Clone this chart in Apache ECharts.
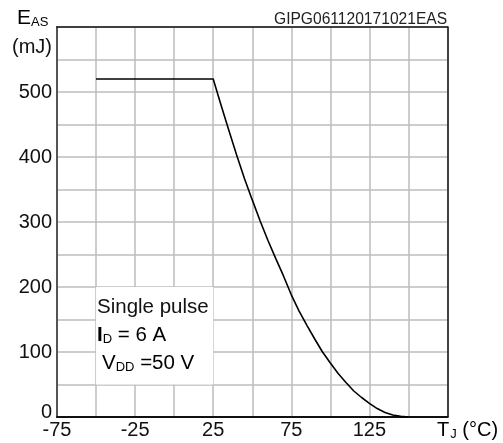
<!DOCTYPE html>
<html><head><meta charset="utf-8">
<script src="https://cdn.jsdelivr.net/npm/echarts@6/dist/echarts.min.js"></script>
<style>html,body{margin:0;padding:0;background:#fff}#c{width:503px;height:443px}</style>
</head><body><div id="c"></div>
<script>
// Data
var tempC = [-50, 25, 30, 35, 40, 45, 50, 55, 60, 65, 70, 75, 80, 85, 90, 95, 100, 105, 110, 115, 120, 125, 130, 135, 140, 145, 150];
var easMJ = [520, 520, 480, 441, 403, 367, 334, 302, 272, 244, 217, 188, 163, 141, 120, 100, 83, 67, 53, 40, 30, 21, 13, 7, 3, 1, 0];
var xTicks = [-75, -25, 25, 75, 125];
var yTicks = [0, 100, 200, 300, 400, 500];
var noteBoxT = [-50, 25];
var noteBoxE = [50, 200];
var noteLines = ['Single pulse', 'I_D = 6 A', 'V_DD =50 V'];

var chart = echarts.init(document.getElementById('c'), null, {renderer: 'canvas'});
var FF = '"Liberation Sans", Arial, sans-serif';
var data = tempC.map(function (t, i) { return [t, easMJ[i]]; });

function frameAxis(pos, isX) {
  return {
    type: 'value', position: pos, min: isX ? -75 : 0, max: isX ? 175 : 600, interval: isX ? 25 : 50,
    axisLine: {show: true, onZero: false, lineStyle: {color: '#111', width: 1.5}},
    axisTick: {show: false}, axisLabel: {show: false}, splitLine: {show: false}
  };
}

chart.setOption({
  animation: false,
  backgroundColor: '#fff',
  grid: {left: 57, right: 55.5, top: 27, bottom: 26, show: false},
  xAxis: [{
    type: 'value', min: -75, max: 175, interval: 25, position: 'bottom',
    axisLine: {show: true, onZero: false, lineStyle: {color: '#111', width: 2}},
    axisTick: {show: false},
    splitLine: {show: true, lineStyle: {color: '#bdbdbd', width: 1.5}},
    axisLabel: {
      margin: 3, fontSize: 20, fontFamily: FF, color: '#111',
      formatter: function (v) { return xTicks.indexOf(v) >= 0 ? String(v) : ''; }
    }
  }, frameAxis('top', true)],
  yAxis: [{
    type: 'value', min: 0, max: 600, interval: 50, position: 'left',
    axisLine: {show: true, onZero: false, lineStyle: {color: '#555', width: 2}},
    axisTick: {show: false},
    splitLine: {show: true, lineStyle: {color: '#bdbdbd', width: 1.5}},
    axisLabel: {
      margin: 5, fontSize: 20, fontFamily: FF, color: '#111',
      formatter: function (v) {
        if (yTicks.indexOf(v) < 0) return '';
        return v === 0 ? '{z|0}' : String(v);
      },
      rich: {z: {fontSize: 20, fontFamily: FF, color: '#111', padding: [0, 0, 10, 0]}}
    }
  }, frameAxis('right', false)],
  series: [{
    type: 'line', data: data, symbol: 'none', z: 5,
    lineStyle: {color: '#000', width: 1.6},
    markArea: {
      silent: true,
      itemStyle: {color: '#fff', opacity: 1},
      data: [[{coord: [noteBoxT[0], noteBoxE[0]]}, {coord: [noteBoxT[1], noteBoxE[1]]}]]
    }
  }],
  graphic: [
    {type: 'text', z: 100, left: 274, top: 12, style: {text: 'GIPG061120171021EAS', font: '15.6px ' + FF, fill: '#222'}},
    {type: 'text', z: 100, left: 17, top: 8, style: {
      text: '{e|E}{s|AS}', rich: {
        e: {fontSize: 21, fontFamily: FF, color: '#111'},
        s: {fontSize: 13, fontFamily: FF, color: '#111', padding: [8, 0, 0, 0]}
      }}},
    {type: 'text', z: 100, left: 12, top: 37, style: {text: '(mJ)', font: '20px ' + FF, fill: '#111'}},
    {type: 'text', z: 100, left: 437, top: 420, style: {
      text: '{t|T}{j|J}{t| (°C)}', rich: {
        t: {fontSize: 20, fontFamily: FF, color: '#111'},
        j: {fontSize: 13, fontFamily: FF, color: '#111', padding: [8, 0, 0, 1]}
      }}},
    {type: 'text', z: 100, left: 97, top: 297, style: {text: noteLines[0], font: '20.5px ' + FF, fill: '#111'}},
    {type: 'text', z: 100, left: 97, top: 325, style: {
      text: '{b|I}{s|D}{t| = 6 A}', rich: {
        b: {fontSize: 20.5, fontWeight: 'bold', fontFamily: FF, color: '#111'},
        s: {fontSize: 13, fontFamily: FF, color: '#111', padding: [8, 0, 0, 0]},
        t: {fontSize: 20.5, fontFamily: FF, color: '#111'}
      }}},
    {type: 'text', z: 100, left: 102, top: 353, style: {
      text: '{t|V}{s|DD}{t| =50 V}', rich: {
        s: {fontSize: 13, fontFamily: FF, color: '#111', padding: [8, 0, 0, 0]},
        t: {fontSize: 20.5, fontFamily: FF, color: '#111'}
      }}}
  ]
});
</script></body></html>
